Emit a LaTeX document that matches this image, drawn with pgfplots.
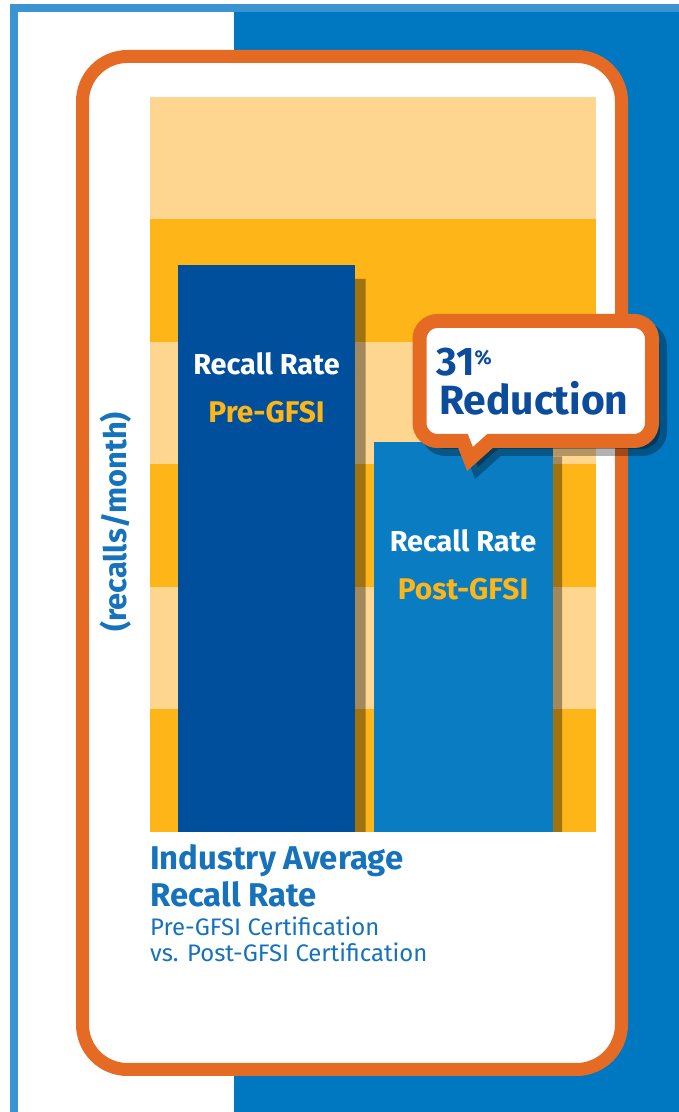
\documentclass[border=0pt]{standalone}
\usepackage{pgfplots}
\pgfplotsset{compat=1.18}
\usepackage{fontspec}
\setmainfont{Fira Sans}
\definecolor{lblue}{HTML}{3A94D1}
\definecolor{dblue}{HTML}{0078C1}
\definecolor{frameor}{HTML}{E56A24}
\definecolor{bandlight}{HTML}{FED68F}
\definecolor{bandyel}{HTML}{FDB517}
\definecolor{prebar}{HTML}{004F9D}
\definecolor{postbar}{HTML}{0A7CC2}
\definecolor{titleblue}{HTML}{1672BA}
\definecolor{callblue}{HTML}{0D4C9B}
\newcommand\calloutpath[1]{%
  \path[#1] (463,671) -- (437.5,671) arc[start angle=270,end angle=180,radius=18bp]
    -- (419.5,773) arc[start angle=180,end angle=90,radius=18bp]
    -- (634,791) arc[start angle=90,end angle=0,radius=18bp]
    -- (652,689) arc[start angle=0,end angle=-90,radius=18bp]
    -- (490,671) -- (470,653) -- cycle;}
\begin{document}
\begin{tikzpicture}[x=1bp,y=1bp]
\path[use as bounding box] (0,0) rectangle (679,1112);
\fill[white] (0,0) rectangle (679,1112);
\fill[lblue] (10,0) rectangle (18,1108);
\fill[lblue] (10,1100) rectangle (679,1108);
\fill[dblue] (234,0) rectangle (679,1100);
\draw[frameor, line width=13bp, fill=white, rounded corners=45bp] (82.5,42.5) rectangle (621.5,1055.5);
\foreach \i/\c in {0/bandyel,1/bandlight,2/bandyel,3/bandlight,4/bandyel,5/bandlight}
  \fill[\c] (150,{280+122.5*\i}) rectangle (596,{402.5+122.5*\i});
\begin{axis}[at={(150bp,280bp)}, anchor=south west,
  width=446bp, height=735bp, scale only axis,
  xmin=-0.5929, xmax=1.6768, ymin=0, ymax=6,
  axis line style={draw=none}, xtick=\empty, ytick=\empty,
  clip=false,
  ylabel={(recalls/month)},
  ylabel style={at={(axis description cs:-0.0762,0.4218)}, anchor=center,
    font=\fontsize{31}{32}\selectfont\bfseries, text=titleblue, inner sep=0pt},
]
\addplot[ybar, bar width=178bp, bar shift=10bp, fill=black, fill opacity=0.36, draw=none]
  coordinates {(0,4.516) (1,3.066)};
\addplot[ybar, bar width=177bp, bar shift=0bp, fill=prebar, draw=none]
  coordinates {(0,4.63)};
\addplot[ybar, bar width=179bp, bar shift=0bp, fill=postbar, draw=none]
  coordinates {(1,3.18)};
\node[anchor=base, text=white, inner sep=0pt, font=\fontsize{29}{30}\selectfont\bfseries] at (axis cs:0,3.731) {Recall Rate};
\node[anchor=base, text=bandyel, inner sep=0pt, font=\fontsize{30}{30}\selectfont\bfseries] at (axis cs:0,3.339) {Pre-GFSI};
\node[anchor=base, text=white, inner sep=0pt, font=\fontsize{29}{30}\selectfont\bfseries] at (axis cs:1,2.286) {Recall Rate};
\node[anchor=base, text=bandyel, inner sep=0pt, font=\fontsize{30}{30}\selectfont\bfseries] at (axis cs:1,1.894) {Post-GFSI};
\end{axis}
% callout
\begin{scope}[shift={(8,-8)}]
\calloutpath{fill=black, fill opacity=0.3, draw=black, draw opacity=0.3, line width=14bp, line join=miter}
\end{scope}
\calloutpath{fill=white, draw=frameor, line width=14bp, line join=miter}
\node[anchor=base west, inner sep=0pt, text=callblue, font=\fontsize{40}{40}\selectfont\bfseries] at (436,736)
  {31\raisebox{11bp}{\fontsize{20}{20}\selectfont\%}};
\node[anchor=base west, inner sep=0pt, text=callblue, font=\fontsize{41}{41}\selectfont\bfseries] at (439,697) {Reduction};
% titles
\node[anchor=base west, inner sep=0pt, text=titleblue, font=\fontsize{33}{33}\selectfont\bfseries] at (150,242) {Industry Average};
\node[anchor=base west, inner sep=0pt, text=titleblue, font=\fontsize{33}{33}\selectfont\bfseries] at (150,205) {Recall Rate};
\node[anchor=base west, inner sep=0pt, text=titleblue, font=\fontsize{24}{24}\selectfont] at (150,176) {Pre-GFSI Certification};
\node[anchor=base west, inner sep=0pt, text=titleblue, font=\fontsize{24}{24}\selectfont] at (150,150) {vs. Post-GFSI Certification};
\end{tikzpicture}
\end{document}
